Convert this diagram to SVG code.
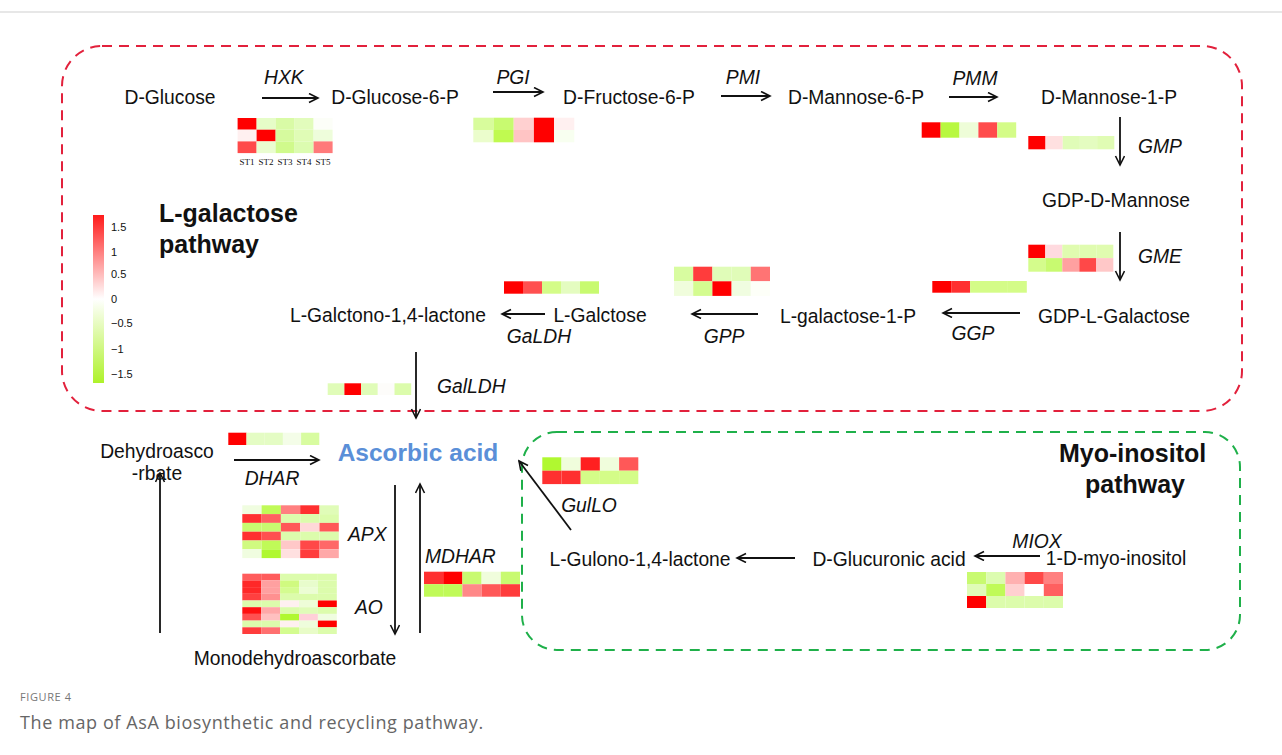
<svg xmlns="http://www.w3.org/2000/svg" width="1282" height="755" viewBox="0 0 1282 755">
<defs>
<marker id="ah" markerWidth="12" markerHeight="12" refX="10" refY="5" orient="auto" markerUnits="userSpaceOnUse">
<path d="M1,0.5 L10,5 L1,9.5" fill="none" stroke="#111" stroke-width="1.6"/>
</marker>
<linearGradient id="lg" x1="0" y1="0" x2="0" y2="1">
<stop offset="0" stop-color="#ff1a1a"/>
<stop offset="0.5" stop-color="#ffffff"/>
<stop offset="1" stop-color="#aef22a"/>
</linearGradient>
<style>
.t{font-family:"Liberation Sans",Arial,sans-serif;font-size:19.3px;fill:#111}
.i{font-family:"Liberation Sans",Arial,sans-serif;font-size:19.3px;font-style:italic;fill:#111}
.b{font-family:"Liberation Sans",Arial,sans-serif;font-size:25px;font-weight:bold;fill:#111}
.m{text-anchor:middle}
.lg{font-family:"Liberation Sans",Arial,sans-serif;font-size:11px;fill:#111}
.st{font-family:"Liberation Serif","Times New Roman",serif;font-size:9px;fill:#111;text-anchor:middle}
.ar{stroke:#111;stroke-width:1.8;fill:none;marker-end:url(#ah)}
.hm rect{stroke:none}
</style>
</defs>
<rect x="0" y="0" width="1282" height="755" fill="#fff"/>
<line x1="0" y1="12" x2="1282" y2="12" stroke="#cfcfcf" stroke-width="1"/>

<g id="region-lgal">
<rect x="62" y="46" width="1180" height="365" rx="40" fill="none" stroke="#e2213c" stroke-width="2" stroke-dasharray="10,7"/>
<text class="b" x="159" y="222">L-galactose</text>
<text class="b" x="159" y="253">pathway</text>
</g>
<g id="region-myo">
<rect x="522" y="432" width="718" height="218" rx="35" fill="none" stroke="#1fb04a" stroke-width="2" stroke-dasharray="10,7"/>
<text class="b" x="1059" y="462">Myo-inositol</text>
<text class="b" x="1085" y="493">pathway</text>
</g>

<g id="legend">
<rect x="93" y="215" width="11" height="168" fill="url(#lg)"/>
<text class="lg" x="111" y="231">1.5</text>
<text class="lg" x="111" y="256">1</text>
<text class="lg" x="111" y="278">0.5</text>
<text class="lg" x="111" y="303">0</text>
<text class="lg" x="111" y="327">−0.5</text>
<text class="lg" x="111" y="353">−1</text>
<text class="lg" x="111" y="378">−1.5</text>
</g>

<g id="connectors">
<line class="ar" x1="262" y1="98" x2="318" y2="98"/>
<line class="ar" x1="493" y1="92" x2="543" y2="92"/>
<line class="ar" x1="721" y1="96" x2="770" y2="96"/>
<line class="ar" x1="949" y1="97" x2="997" y2="97"/>
<line class="ar" x1="1120" y1="117" x2="1120" y2="165"/>
<line class="ar" x1="1120" y1="232" x2="1120" y2="280"/>
<line class="ar" x1="1020" y1="313" x2="943" y2="313"/>
<line class="ar" x1="758" y1="314" x2="692" y2="314"/>
<line class="ar" x1="545" y1="314" x2="502" y2="314"/>
<line class="ar" x1="416" y1="352" x2="416" y2="418"/>
<line class="ar" x1="234" y1="460" x2="319" y2="460"/>
<line class="ar" x1="160" y1="633" x2="160" y2="473"/>
<line class="ar" x1="395" y1="485" x2="395" y2="634"/>
<line class="ar" x1="420" y1="633" x2="420" y2="484"/>
<line class="ar" x1="571" y1="530" x2="519" y2="461"/>
<line class="ar" x1="795" y1="558" x2="737" y2="558"/>
<line class="ar" x1="1040" y1="556" x2="975" y2="556"/>
</g>

<g id="n-dglucose"><text class="t m" x="170" y="104">D-Glucose</text></g>
<g id="n-g6p"><text class="t m" x="395" y="104">D-Glucose-6-P</text></g>
<g id="n-f6p"><text class="t m" x="629" y="104">D-Fructose-6-P</text></g>
<g id="n-m6p"><text class="t m" x="856" y="104">D-Mannose-6-P</text></g>
<g id="n-m1p"><text class="t m" x="1109" y="104">D-Mannose-1-P</text></g>
<g id="n-gdpm"><text class="t m" x="1116" y="207">GDP-D-Mannose</text></g>
<g id="n-gdpl"><text class="t m" x="1114" y="323">GDP-L-Galactose</text></g>
<g id="n-l1p"><text class="t m" x="848" y="323">L-galactose-1-P</text></g>
<g id="n-lgal"><text class="t m" x="600" y="322">L-Galctose</text></g>
<g id="n-lgl"><text class="t m" x="388" y="322">L-Galctono-1,4-lactone</text></g>
<g id="n-dha"><text class="t m" x="157" y="458">Dehydroasco</text><text class="t m" x="157" y="480">-rbate</text></g>
<g id="n-asa"><text class="m" x="418" y="461" style="font-family:'Liberation Sans',Arial,sans-serif;font-size:24.5px;font-weight:bold;fill:#5a8fd8">Ascorbic acid</text></g>
<g id="n-mdha"><text class="t m" x="295" y="665">Monodehydroascorbate</text></g>
<g id="n-gul"><text class="t m" x="640" y="566">L-Gulono-1,4-lactone</text></g>
<g id="n-glcu"><text class="t m" x="889" y="566">D-Glucuronic acid</text></g>
<g id="n-myo"><text class="t m" x="1116" y="565">1-D-myo-inositol</text></g>

<g id="enzyme-labels">
<text class="i" x="264" y="84">HXK</text>
<text class="i m" x="513" y="84">PGI</text>
<text class="i m" x="743" y="84">PMI</text>
<text class="i m" x="975" y="85">PMM</text>
<text class="i" x="1138" y="153">GMP</text>
<text class="i" x="1138" y="263">GME</text>
<text class="i m" x="973" y="340">GGP</text>
<text class="i m" x="724" y="343">GPP</text>
<text class="i m" x="539" y="343">GaLDH</text>
<text class="i" x="437" y="393">GalLDH</text>
<text class="i m" x="272" y="485">DHAR</text>
<text class="i" x="348" y="541">APX</text>
<text class="i" x="355" y="614">AO</text>
<text class="i" x="425" y="563">MDHAR</text>
<text class="i m" x="589" y="512">GulLO</text>
<text class="i m" x="1037" y="548">MIOX</text>
</g>

<g id="hm-hxk" class="hm">
<rect x="237.6" y="118" width="19" height="11.7" fill="#ff0000"/><rect x="256.6" y="118" width="19" height="11.7" fill="#e6fdc8"/><rect x="275.6" y="118" width="19" height="11.7" fill="#d9fba6"/><rect x="294.6" y="118" width="19" height="11.7" fill="#e2fcbc"/><rect x="313.6" y="118" width="19" height="11.7" fill="#fcfef8"/>
<rect x="237.6" y="129.7" width="19" height="11.7" fill="#fff0f0"/><rect x="256.6" y="129.7" width="19" height="11.7" fill="#ff0000"/><rect x="275.6" y="129.7" width="19" height="11.7" fill="#d6fa9e"/><rect x="294.6" y="129.7" width="19" height="11.7" fill="#e0fcb6"/><rect x="313.6" y="129.7" width="19" height="11.7" fill="#eefddb"/>
<rect x="237.6" y="141.4" width="19" height="11.7" fill="#ff4a4a"/><rect x="256.6" y="141.4" width="19" height="11.7" fill="#eafdd0"/><rect x="275.6" y="141.4" width="19" height="11.7" fill="#d0fa8c"/><rect x="294.6" y="141.4" width="19" height="11.7" fill="#dcfcb0"/><rect x="313.6" y="141.4" width="19" height="11.7" fill="#ff7a7a"/>
<text class="st" x="247" y="165">ST1</text><text class="st" x="266" y="165">ST2</text><text class="st" x="285" y="165">ST3</text><text class="st" x="304" y="165">ST4</text><text class="st" x="323" y="165">ST5</text>
</g>

<g id="hm-pgi" class="hm">
<rect x="473.3" y="117.7" width="20.2" height="12.3" fill="#d8fc9c"/><rect x="493.5" y="117.7" width="20.2" height="12.3" fill="#c8fa70"/><rect x="513.7" y="117.7" width="20.2" height="12.3" fill="#ffd0d0"/><rect x="533.9" y="117.7" width="20.2" height="12.3" fill="#ff0000"/><rect x="554.1" y="117.7" width="20.2" height="12.3" fill="#fff0f0"/>
<rect x="473.3" y="130" width="20.2" height="12.3" fill="#ebfdcc"/><rect x="493.5" y="130" width="20.2" height="12.3" fill="#c0fa50"/><rect x="513.7" y="130" width="20.2" height="12.3" fill="#ffc4c4"/><rect x="533.9" y="130" width="20.2" height="12.3" fill="#ff0000"/><rect x="554.1" y="130" width="20.2" height="12.3" fill="#f8fff0"/>
</g>

<g id="hm-pmm" class="hm">
<rect x="921.7" y="122.3" width="18.9" height="15.4" fill="#ff0000"/><rect x="940.6" y="122.3" width="18.9" height="15.4" fill="#b8f840"/><rect x="959.5" y="122.3" width="18.9" height="15.4" fill="#eefdd8"/><rect x="978.4" y="122.3" width="18.9" height="15.4" fill="#ff4c4c"/><rect x="997.3" y="122.3" width="18.9" height="15.4" fill="#d4fc88"/>
</g>

<g id="hm-gmp" class="hm">
<rect x="1028.3" y="136" width="17.2" height="13.3" fill="#ff0000"/><rect x="1045.5" y="136" width="17.2" height="13.3" fill="#ffe0e0"/><rect x="1062.7" y="136" width="17.2" height="13.3" fill="#e0fcb8"/><rect x="1079.9" y="136" width="17.2" height="13.3" fill="#e4fcc0"/><rect x="1097.1" y="136" width="17.2" height="13.3" fill="#e0fcb4"/>
</g>

<g id="hm-gme" class="hm">
<rect x="1028.3" y="244.7" width="17" height="13.4" fill="#ff0000"/><rect x="1045.3" y="244.7" width="17" height="13.4" fill="#ffdadf"/><rect x="1062.3" y="244.7" width="17" height="13.4" fill="#e0fcb0"/><rect x="1079.3" y="244.7" width="17" height="13.4" fill="#e0fcb0"/><rect x="1096.3" y="244.7" width="17" height="13.4" fill="#e0fcb0"/>
<rect x="1028.3" y="258.1" width="17" height="13.6" fill="#d4fc8c"/><rect x="1045.3" y="258.1" width="17" height="13.6" fill="#c8fa70"/><rect x="1062.3" y="258.1" width="17" height="13.6" fill="#ffa0a0"/><rect x="1079.3" y="258.1" width="17" height="13.6" fill="#ff4848"/><rect x="1096.3" y="258.1" width="17" height="13.6" fill="#ffc8c8"/>
</g>

<g id="hm-ggp" class="hm">
<rect x="932.3" y="281" width="18.9" height="11.7" fill="#ff0000"/><rect x="951.2" y="281" width="18.9" height="11.7" fill="#ff3030"/><rect x="970.1" y="281" width="18.9" height="11.7" fill="#d4fc88"/><rect x="989" y="281" width="18.9" height="11.7" fill="#d4fc88"/><rect x="1007.9" y="281" width="18.9" height="11.7" fill="#d4fc88"/>
</g>

<g id="hm-gpp" class="hm">
<rect x="674" y="266.7" width="19.2" height="14.6" fill="#d8fca0"/><rect x="693.2" y="266.7" width="19.2" height="14.6" fill="#ff3c3c"/><rect x="712.4" y="266.7" width="19.2" height="14.6" fill="#e0fcb8"/><rect x="731.6" y="266.7" width="19.2" height="14.6" fill="#e0fcb8"/><rect x="750.8" y="266.7" width="19.2" height="14.6" fill="#ff7474"/>
<rect x="674" y="281.3" width="19.2" height="14.6" fill="#f0fddc"/><rect x="693.2" y="281.3" width="19.2" height="14.6" fill="#d4fc90"/><rect x="712.4" y="281.3" width="19.2" height="14.6" fill="#ff0000"/><rect x="731.6" y="281.3" width="19.2" height="14.6" fill="#f0fde0"/><rect x="750.8" y="281.3" width="19.2" height="14.6" fill="#fdfff8"/>
</g>

<g id="hm-galdh" class="hm">
<rect x="504" y="281.3" width="19" height="12.4" fill="#ff0000"/><rect x="523" y="281.3" width="19" height="12.4" fill="#ff5050"/><rect x="542" y="281.3" width="19" height="12.4" fill="#d4fc88"/><rect x="561" y="281.3" width="19" height="12.4" fill="#e4fcc0"/><rect x="580" y="281.3" width="19" height="12.4" fill="#c8fa70"/>
</g>

<g id="hm-galldh" class="hm">
<rect x="327.7" y="383.3" width="16.7" height="11.7" fill="#e0fcb8"/><rect x="344.4" y="383.3" width="16.7" height="11.7" fill="#ff0000"/><rect x="361.1" y="383.3" width="16.7" height="11.7" fill="#e0fcb8"/><rect x="377.8" y="383.3" width="16.7" height="11.7" fill="#fdfcfa"/><rect x="394.5" y="383.3" width="16.7" height="11.7" fill="#dcfcac"/>
</g>

<g id="hm-dhar" class="hm">
<rect x="228.3" y="432.7" width="18.2" height="12.3" fill="#ff0000"/><rect x="246.5" y="432.7" width="18.2" height="12.3" fill="#e4fcc4"/><rect x="264.7" y="432.7" width="18.2" height="12.3" fill="#e4fcc4"/><rect x="282.9" y="432.7" width="18.2" height="12.3" fill="#f4fde8"/><rect x="301.1" y="432.7" width="18.2" height="12.3" fill="#d8fca0"/>
</g>

<g id="hm-apx" class="hm">
<rect x="242.3" y="505.3" width="19.3" height="8.8" fill="#f0fde0"/><rect x="261.6" y="505.3" width="19.3" height="8.8" fill="#c0fa58"/><rect x="280.9" y="505.3" width="19.3" height="8.8" fill="#ff8080"/><rect x="300.2" y="505.3" width="19.3" height="8.8" fill="#ff3030"/><rect x="319.5" y="505.3" width="19.3" height="8.8" fill="#e0fcb8"/>
<rect x="242.3" y="514.1" width="19.3" height="8.8" fill="#ff3030"/><rect x="261.6" y="514.1" width="19.3" height="8.8" fill="#ff6060"/><rect x="280.9" y="514.1" width="19.3" height="8.8" fill="#dcfcac"/><rect x="300.2" y="514.1" width="19.3" height="8.8" fill="#dcfcac"/><rect x="319.5" y="514.1" width="19.3" height="8.8" fill="#dcfcac"/>
<rect x="242.3" y="522.9" width="19.3" height="8.8" fill="#c8fa70"/><rect x="261.6" y="522.9" width="19.3" height="8.8" fill="#c8fa70"/><rect x="280.9" y="522.9" width="19.3" height="8.8" fill="#ff5858"/><rect x="300.2" y="522.9" width="19.3" height="8.8" fill="#ffd8d8"/><rect x="319.5" y="522.9" width="19.3" height="8.8" fill="#ff5858"/>
<rect x="242.3" y="531.7" width="19.3" height="8.8" fill="#ff3030"/><rect x="261.6" y="531.7" width="19.3" height="8.8" fill="#ff5050"/><rect x="280.9" y="531.7" width="19.3" height="8.8" fill="#dcfcac"/><rect x="300.2" y="531.7" width="19.3" height="8.8" fill="#dcfcac"/><rect x="319.5" y="531.7" width="19.3" height="8.8" fill="#dcfcac"/>
<rect x="242.3" y="540.5" width="19.3" height="8.8" fill="#d0fa80"/><rect x="261.6" y="540.5" width="19.3" height="8.8" fill="#c0fa58"/><rect x="280.9" y="540.5" width="19.3" height="8.8" fill="#ffc8c8"/><rect x="300.2" y="540.5" width="19.3" height="8.8" fill="#ff4848"/><rect x="319.5" y="540.5" width="19.3" height="8.8" fill="#ff6868"/>
<rect x="242.3" y="549.3" width="19.3" height="8.8" fill="#f0fde0"/><rect x="261.6" y="549.3" width="19.3" height="8.8" fill="#b0f830"/><rect x="280.9" y="549.3" width="19.3" height="8.8" fill="#ffe0e0"/><rect x="300.2" y="549.3" width="19.3" height="8.8" fill="#ff3c3c"/><rect x="319.5" y="549.3" width="19.3" height="8.8" fill="#ffa8a8"/>
</g>

<g id="hm-ao" class="hm">
<rect x="242.3" y="573.7" width="18.9" height="6.7" fill="#ff5c5c"/><rect x="261.2" y="573.7" width="18.9" height="6.7" fill="#ff5c5c"/><rect x="280.1" y="573.7" width="18.9" height="6.7" fill="#dcfcac"/><rect x="299" y="573.7" width="18.9" height="6.7" fill="#dcfcac"/><rect x="317.9" y="573.7" width="18.9" height="6.7" fill="#dcfcac"/>
<rect x="242.3" y="580.4" width="18.9" height="6.7" fill="#ff2828"/><rect x="261.2" y="580.4" width="18.9" height="6.7" fill="#ffa0a0"/><rect x="280.1" y="580.4" width="18.9" height="6.7" fill="#d0fa80"/><rect x="299" y="580.4" width="18.9" height="6.7" fill="#e8fccc"/><rect x="317.9" y="580.4" width="18.9" height="6.7" fill="#dcfcac"/>
<rect x="242.3" y="587.1" width="18.9" height="6.7" fill="#ff2828"/><rect x="261.2" y="587.1" width="18.9" height="6.7" fill="#ffa0a0"/><rect x="280.1" y="587.1" width="18.9" height="6.7" fill="#d4fc90"/><rect x="299" y="587.1" width="18.9" height="6.7" fill="#ecfdd4"/><rect x="317.9" y="587.1" width="18.9" height="6.7" fill="#dcfcac"/>
<rect x="242.3" y="593.8" width="18.9" height="6.7" fill="#ff4040"/><rect x="261.2" y="593.8" width="18.9" height="6.7" fill="#ff9090"/><rect x="280.1" y="593.8" width="18.9" height="6.7" fill="#dcfcac"/><rect x="299" y="593.8" width="18.9" height="6.7" fill="#dcfcac"/><rect x="317.9" y="593.8" width="18.9" height="6.7" fill="#dcfcac"/>
<rect x="242.3" y="600.5" width="18.9" height="6.7" fill="#dcfcac"/><rect x="261.2" y="600.5" width="18.9" height="6.7" fill="#dcfcac"/><rect x="280.1" y="600.5" width="18.9" height="6.7" fill="#fff0f0"/><rect x="299" y="600.5" width="18.9" height="6.7" fill="#eefdd8"/><rect x="317.9" y="600.5" width="18.9" height="6.7" fill="#ff0000"/>
<rect x="242.3" y="607.2" width="18.9" height="6.7" fill="#ff1010"/><rect x="261.2" y="607.2" width="18.9" height="6.7" fill="#ffa8a8"/><rect x="280.1" y="607.2" width="18.9" height="6.7" fill="#dcfcac"/><rect x="299" y="607.2" width="18.9" height="6.7" fill="#e0fcb8"/><rect x="317.9" y="607.2" width="18.9" height="6.7" fill="#dcfcac"/>
<rect x="242.3" y="613.9" width="18.9" height="6.7" fill="#ff5050"/><rect x="261.2" y="613.9" width="18.9" height="6.7" fill="#ffc0c0"/><rect x="280.1" y="613.9" width="18.9" height="6.7" fill="#b0f830"/><rect x="299" y="613.9" width="18.9" height="6.7" fill="#ffd0d8"/><rect x="317.9" y="613.9" width="18.9" height="6.7" fill="#f0fde0"/>
<rect x="242.3" y="620.6" width="18.9" height="6.7" fill="#dcfcac"/><rect x="261.2" y="620.6" width="18.9" height="6.7" fill="#dcfcac"/><rect x="280.1" y="620.6" width="18.9" height="6.7" fill="#fff0f0"/><rect x="299" y="620.6" width="18.9" height="6.7" fill="#eefddc"/><rect x="317.9" y="620.6" width="18.9" height="6.7" fill="#ff0000"/>
<rect x="242.3" y="627.3" width="18.9" height="6.7" fill="#ff3c3c"/><rect x="261.2" y="627.3" width="18.9" height="6.7" fill="#ff7070"/><rect x="280.1" y="627.3" width="18.9" height="6.7" fill="#d4fc90"/><rect x="299" y="627.3" width="18.9" height="6.7" fill="#e8fcc8"/><rect x="317.9" y="627.3" width="18.9" height="6.7" fill="#dcfcac"/>
</g>

<g id="hm-mdhar" class="hm">
<rect x="424" y="571.7" width="19.2" height="12.5" fill="#ff3030"/><rect x="443.2" y="571.7" width="19.2" height="12.5" fill="#ff0000"/><rect x="462.4" y="571.7" width="19.2" height="12.5" fill="#c8fa70"/><rect x="481.6" y="571.7" width="19.2" height="12.5" fill="#f0fddc"/><rect x="500.8" y="571.7" width="19.2" height="12.5" fill="#c8fa70"/>
<rect x="424" y="584.2" width="19.2" height="12.5" fill="#c0fa58"/><rect x="443.2" y="584.2" width="19.2" height="12.5" fill="#c0fa58"/><rect x="462.4" y="584.2" width="19.2" height="12.5" fill="#ff8888"/><rect x="481.6" y="584.2" width="19.2" height="12.5" fill="#ff5858"/><rect x="500.8" y="584.2" width="19.2" height="12.5" fill="#ff3c3c"/>
</g>

<g id="hm-gullo" class="hm">
<rect x="542.3" y="457.3" width="19.2" height="13.4" fill="#b0f830"/><rect x="561.5" y="457.3" width="19.2" height="13.4" fill="#f0fddc"/><rect x="580.7" y="457.3" width="19.2" height="13.4" fill="#ff2020"/><rect x="599.9" y="457.3" width="19.2" height="13.4" fill="#f0fddc"/><rect x="619.1" y="457.3" width="19.2" height="13.4" fill="#ff5858"/>
<rect x="542.3" y="470.7" width="19.2" height="13.4" fill="#ff3030"/><rect x="561.5" y="470.7" width="19.2" height="13.4" fill="#ff3030"/><rect x="580.7" y="470.7" width="19.2" height="13.4" fill="#d4fc88"/><rect x="599.9" y="470.7" width="19.2" height="13.4" fill="#d4fc88"/><rect x="619.1" y="470.7" width="19.2" height="13.4" fill="#d4fc88"/>
</g>

<g id="hm-miox" class="hm">
<rect x="967" y="572" width="19.2" height="12" fill="#c8fa70"/><rect x="986.2" y="572" width="19.2" height="12" fill="#dcfcb0"/><rect x="1005.4" y="572" width="19.2" height="12" fill="#ffb0b0"/><rect x="1024.6" y="572" width="19.2" height="12" fill="#ff4848"/><rect x="1043.8" y="572" width="19.2" height="12" fill="#ff8080"/>
<rect x="967" y="584" width="19.2" height="12" fill="#e0fcb8"/><rect x="986.2" y="584" width="19.2" height="12" fill="#c0fa58"/><rect x="1005.4" y="584" width="19.2" height="12" fill="#ffd0d0"/><rect x="1024.6" y="584" width="19.2" height="12" fill="#ffffff"/><rect x="1043.8" y="584" width="19.2" height="12" fill="#ff6060"/>
<rect x="967" y="596" width="19.2" height="12" fill="#ff0000"/><rect x="986.2" y="596" width="19.2" height="12" fill="#dcfcac"/><rect x="1005.4" y="596" width="19.2" height="12" fill="#dcfcac"/><rect x="1024.6" y="596" width="19.2" height="12" fill="#dcfcac"/><rect x="1043.8" y="596" width="19.2" height="12" fill="#dcfcac"/>
</g>

<g id="caption">
<text x="20" y="701" style="font-family:'Open Sans','Noto Sans',sans-serif;font-size:11px;fill:#777;letter-spacing:0.6px">FIGURE 4</text>
<text x="20" y="729" style="font-family:'Open Sans','Noto Sans',sans-serif;font-size:18px;fill:#666;letter-spacing:0.6px">The map of AsA biosynthetic and recycling pathway.</text>
</g>
</svg>
